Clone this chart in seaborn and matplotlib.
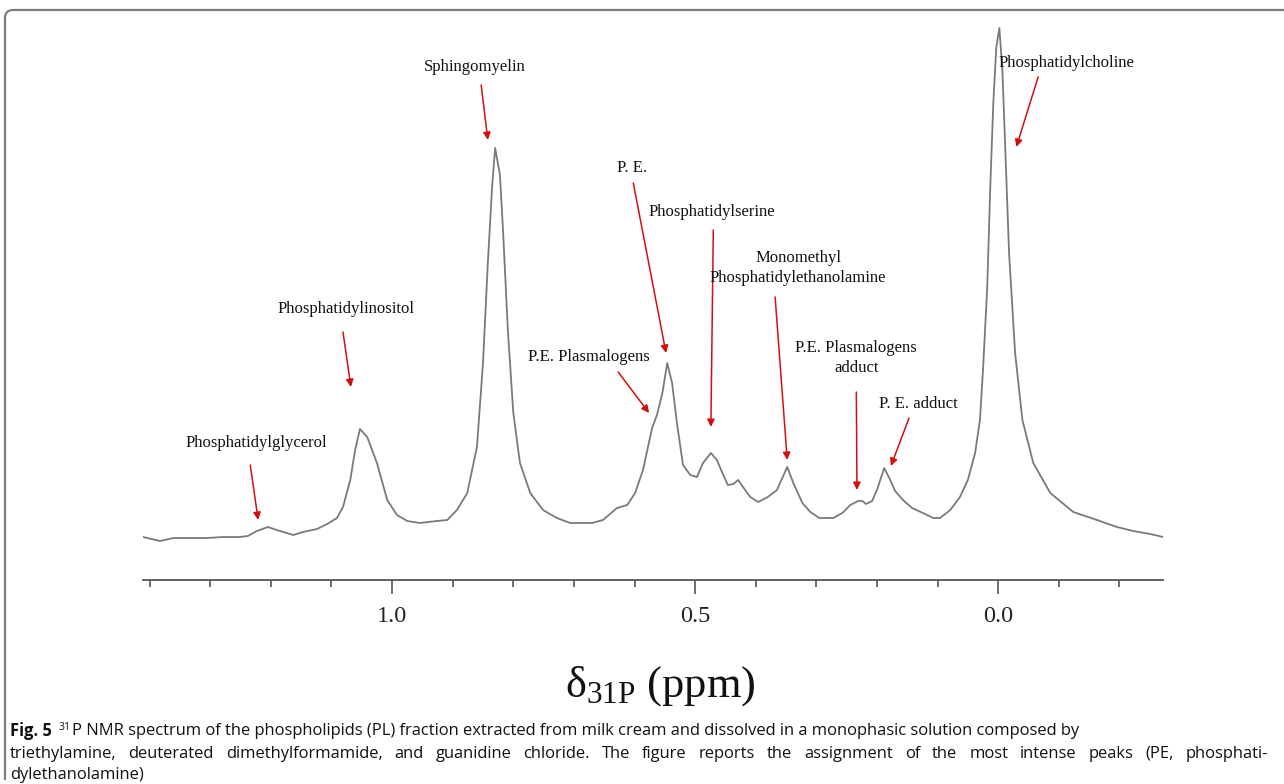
import numpy as np
import pandas as pd
import seaborn as sns
import matplotlib.pyplot as plt
from matplotlib.ticker import MultipleLocator, FormatStrFormatter
from matplotlib.path import Path
from matplotlib.patches import PathPatch

# 31P NMR trace (chemical shift in ppm, intensity in arb. units)
shift_ppm = [1.411, 1.383, 1.361, 1.333, 1.305, 1.279, 1.251, 1.238, 1.223, 1.205,
             1.185, 1.163, 1.147, 1.124, 1.107, 1.091, 1.081, 1.069, 1.061, 1.053,
             1.041, 1.025, 1.008, 0.992, 0.975, 0.954, 0.926, 0.909, 0.893, 0.876,
             0.860, 0.850, 0.842, 0.835, 0.830, 0.822, 0.817, 0.809, 0.800, 0.789,
             0.772, 0.751, 0.728, 0.706, 0.670, 0.652, 0.629, 0.612, 0.599, 0.586,
             0.571, 0.563, 0.554, 0.546, 0.538, 0.530, 0.520, 0.508, 0.497, 0.487,
             0.474, 0.464, 0.455, 0.446, 0.437, 0.429, 0.421, 0.409, 0.396, 0.380,
             0.365, 0.348, 0.338, 0.323, 0.310, 0.295, 0.272, 0.257, 0.244, 0.231,
             0.224, 0.218, 0.208, 0.200, 0.188, 0.178, 0.170, 0.157, 0.142, 0.124,
             0.107, 0.096, 0.079, 0.063, 0.050, 0.038, 0.030, 0.025, 0.018, 0.013,
             0.008, 0.003, -0.002, -0.007, -0.012, -0.018, -0.028, -0.040, -0.058, -0.086,
             -0.124, -0.163, -0.196, -0.223, -0.251, -0.272]
intensity = [43, 39, 42, 42, 42, 43, 43, 44, 49, 53,
             49, 45, 48, 51, 56, 62, 73, 100, 130, 151,
             143, 117, 80, 65, 59, 57, 59, 60, 70, 87,
             133, 217, 317, 393, 432, 405, 350, 250, 167, 117,
             87, 70, 62, 57, 57, 60, 72, 75, 87, 110,
             152, 165, 187, 217, 197, 157, 115, 105, 103, 117,
             127, 120, 107, 95, 96, 100, 93, 83, 78, 83,
             90, 113, 97, 77, 68, 62, 62, 67, 75, 79,
             79, 76, 79, 90, 112, 100, 89, 80, 72, 67,
             62, 62, 70, 83, 100, 127, 160, 210, 293, 393,
             477, 533, 552, 510, 427, 327, 227, 160, 117, 87,
             68, 60, 53, 49, 46, 43]

# peak assignments: label, text position, arrow tail, arrow tip (ppm, intensity)
labels = ["Phosphatidylglycerol", "Phosphatidylinositol", "Sphingomyelin", "P. E.",
          "Phosphatidylserine", "P.E. Plasmalogens",
          "Monomethyl\nPhosphatidylethanolamine", "P.E. Plasmalogens\nadduct",
          "P. E. adduct", "Phosphatidylcholine"]
text_xy = [(1.224, 137), (1.076, 271), (0.863, 513), (0.604, 412), (0.472, 368),
           (0.675, 223), (0.330, 312), (0.234, 222), (0.132, 176), (-0.112, 517)]
tail_xy = [(1.234, 115), (1.081, 248), (0.853, 495), (0.602, 397), (0.470, 350),
           (0.627, 208), (0.368, 283), (0.234, 188), (0.147, 162), (-0.066, 503)]
tip_xy = [(1.221, 60), (1.068, 193), (0.842, 440), (0.548, 227), (0.474, 153),
          (0.576, 167), (0.348, 120), (0.233, 90), (0.177, 114), (-0.030, 433)]

caption = ["P NMR spectrum of the phospholipids (PL) fraction extracted from milk cream and dissolved in a monophasic solution composed by",
           "triethylamine, deuterated dimethylformamide, and guanidine chloride. The figure reports the assignment of the most intense peaks (PE, phosphati-",
           "dylethanolamine)"]

sns.set_theme(style="white")
plt.rcParams["font.family"] = ["Liberation Serif", "DejaVu Serif"]
plt.rcParams["mathtext.fontset"] = "custom"
plt.rcParams["mathtext.rm"] = "Liberation Serif"
plt.rcParams["mathtext.it"] = "Liberation Serif:italic"

W, H = 1284, 784
fig = plt.figure(figsize=(12.84, 7.84), dpi=100)
ax = fig.add_axes([143 / W, 1 - 580 / H, 1020 / W, 559 / H])

df = pd.DataFrame({"ppm": shift_ppm, "I": intensity})
sns.lineplot(data=df, x="ppm", y="I", sort=False, estimator=None,
             color="#7a7a7a", lw=1.3, ax=ax)

ax.set_xlim(1.411, -0.272)
ax.set_ylim(0, 559)
ax.set_xlabel("")
ax.set_ylabel("")
ax.set_yticks([])
for s in ["top", "left", "right"]:
    ax.spines[s].set_visible(False)
ax.spines["bottom"].set_color("#555555")
ax.spines["bottom"].set_linewidth(1.3)
ax.xaxis.set_major_locator(MultipleLocator(0.5))
ax.xaxis.set_minor_locator(MultipleLocator(0.1))
ax.xaxis.set_major_formatter(FormatStrFormatter("%.1f"))
ax.tick_params(axis="x", which="major", direction="out", length=10, width=1.2,
               color="#555555", labelsize=17.5, pad=9, labelcolor="#222222", bottom=True)
ax.tick_params(axis="x", which="minor", direction="out", length=5, width=1.2,
               color="#555555", bottom=True)
ax.patch.set_alpha(0)

for lab, t, a, b in zip(labels, text_xy, tail_xy, tip_xy):
    ax.text(t[0], t[1], lab, ha="center", va="center", fontsize=12,
            color="#111111", linespacing=1.25)
    ax.annotate("", xy=b, xytext=a,
                arrowprops=dict(arrowstyle="-|>", color="#d01010", lw=1.1,
                                mutation_scale=11, shrinkA=0, shrinkB=0))

# axis title
fig.text(660 / W, 1 - 686 / H, r"$\mathrm{δ}_{\mathrm{31P}}$ (ppm)", ha="center", va="center",
         fontsize=32, color="#111111")

# frame around the figure panel
r = 8
verts = [(5 / W, 1 - 780 / H), (5 / W, 1 - (10 + r) / H), (5 / W, 1 - 10 / H),
         ((5 + r) / W, 1 - 10 / H), (1.0, 1 - 10 / H)]
codes = [Path.MOVETO, Path.LINETO, Path.CURVE3, Path.CURVE3, Path.LINETO]
fig.add_artist(PathPatch(Path(verts, codes), fill=False, edgecolor="#7d7d7d",
                         lw=1.6, transform=fig.transFigure))

# caption
cap_font = ["Open Sans", "DejaVu Sans"]
cap_size = 11.9
fig.canvas.draw()
rend = fig.canvas.get_renderer()
t0 = fig.text(10 / W, 1 - 731 / H, "Fig. 5", fontsize=cap_size, fontweight="bold",
              family=cap_font, va="center", color="#111111")
bb = t0.get_window_extent(rend)
t1 = fig.text((bb.x1 + 7) / W, 1 - 727 / H, "31", fontsize=7.5, family=cap_font,
              va="center", color="#111111")
bb1 = t1.get_window_extent(rend)
fig.text((bb1.x1 + 1) / W, 1 - 731 / H, caption[0], fontsize=cap_size, family=cap_font,
         va="center", color="#111111")

# second line is justified to the full text width
words = caption[1].split(" ")
wt = [fig.text(0, 1 - 754 / H, w, fontsize=cap_size, family=cap_font, va="center",
               color="#111111") for w in words]
widths = [t.get_window_extent(rend).width for t in wt]
gap = (1268 - 10 - sum(widths)) / (len(words) - 1)
x = 10
for t, w in zip(wt, widths):
    t.set_x(x / W)
    x += w + gap

fig.text(10 / W, 1 - 775 / H, caption[2], fontsize=cap_size, family=cap_font,
         va="center", color="#111111")

fig.savefig("out.png", dpi=100)
